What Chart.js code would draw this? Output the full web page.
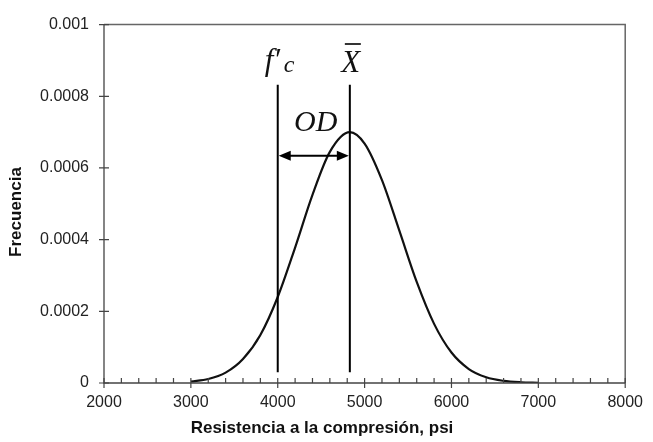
<!DOCTYPE html>
<html>
<head>
<meta charset="utf-8">
<script src="https://cdn.jsdelivr.net/npm/chart.js@4/dist/chart.umd.min.js"></script>
<style>
  html, body { margin: 0; padding: 0; background: #fff; }
  #wrap { width: 653px; height: 442px; }
</style>
</head>
<body>
<div id="wrap"><canvas id="myChart" width="653" height="442"></canvas></div>
<script>
// curve (psi, frequency)
const strength = [3000, 3200, 3400, 3600, 3800, 4000, 4200, 4400, 4600, 4830, 5000, 5200, 5400, 5600, 5800, 6000, 6200, 6400, 6600, 6800, 7000]
const frequency = [0.000004, 0.000011, 0.000029, 0.000067, 0.000134, 0.00024, 0.000378, 0.000525, 0.000645, 0.0007, 0.000668, 0.000566, 0.000425, 0.000282, 0.000165, 0.000085, 0.000039, 0.000016, 0.000006, 0.000002, 0.0000005]

const xTicks = [2000, 3000, 4000, 5000, 6000, 7000, 8000]
const yTicks = [0, 0.0002, 0.0004, 0.0006, 0.0008, 0.001]

// marker lines: f'c and mean
const fc = 4000
const mean = 4830
const markerTop = 0.000832
const markerBottom = 0.00003
const arrowLevel = 0.000634

const axisColor = '#444'
const sans = '"Liberation Sans", Arial, sans-serif'
const serif = '"Liberation Serif", "Times New Roman", serif'

const annotations = {
    id: 'annotations',
    afterDraw(chart) {
        const { ctx, chartArea: a, scales: { x, y } } = chart
        ctx.save()

        // frame top + right
        ctx.strokeStyle = '#666'
        ctx.lineWidth = 1.5
        ctx.beginPath()
        ctx.moveTo(a.left, a.top)
        ctx.lineTo(a.right, a.top)
        ctx.lineTo(a.right, a.bottom)
        ctx.stroke()

        // axis lines
        ctx.strokeStyle = axisColor
        ctx.lineWidth = 1.3
        ctx.beginPath()
        ctx.moveTo(a.left, a.top)
        ctx.lineTo(a.left, a.bottom)
        ctx.lineTo(a.right, a.bottom)
        ctx.stroke()

        // major ticks cross the axis, minor ticks go up
        ctx.lineWidth = 1.2
        ctx.beginPath()
        xTicks.forEach(v => {
            const px = x.getPixelForValue(v)
            ctx.moveTo(px, a.bottom - 5)
            ctx.lineTo(px, a.bottom + 5)
        })
        for (let v = 2200; v < 8000; v += 200) {
            if (v % 1000 === 0) continue
            const px = x.getPixelForValue(v)
            ctx.moveTo(px, a.bottom - 5)
            ctx.lineTo(px, a.bottom)
        }
        yTicks.forEach(v => {
            const py = y.getPixelForValue(v)
            ctx.moveTo(a.left - 5, py)
            ctx.lineTo(a.left + 5, py)
        })
        ctx.stroke()

        // vertical marker lines
        ctx.strokeStyle = '#000'
        ctx.lineWidth = 2
        ctx.beginPath()
        ;[fc, mean].forEach(v => {
            const px = x.getPixelForValue(v)
            ctx.moveTo(px, y.getPixelForValue(markerTop))
            ctx.lineTo(px, y.getPixelForValue(markerBottom))
        })
        ctx.stroke()

        // double arrow OD
        const x1 = x.getPixelForValue(fc) + 1
        const x2 = x.getPixelForValue(mean) - 1
        const ay = y.getPixelForValue(arrowLevel)
        ctx.lineWidth = 2
        ctx.beginPath()
        ctx.moveTo(x1 + 8, ay)
        ctx.lineTo(x2 - 8, ay)
        ctx.stroke()
        ctx.fillStyle = '#000'
        ctx.beginPath()
        ctx.moveTo(x1, ay)
        ctx.lineTo(x1 + 12, ay - 5)
        ctx.lineTo(x1 + 12, ay + 5)
        ctx.closePath()
        ctx.moveTo(x2, ay)
        ctx.lineTo(x2 - 12, ay - 5)
        ctx.lineTo(x2 - 12, ay + 5)
        ctx.closePath()
        ctx.fill()

        // labels
        ctx.fillStyle = '#111'
        ctx.textBaseline = 'alphabetic'
        ctx.textAlign = 'left'
        const fx = x.getPixelForValue(fc)
        ctx.font = 'italic 31px ' + serif
        ctx.fillText('f\u2032', fx - 13, 70)
        ctx.font = 'italic 24px ' + serif
        ctx.fillText('c', fx + 6, 72)

        const mx = x.getPixelForValue(mean)
        ctx.font = 'italic 31px ' + serif
        ctx.textAlign = 'center'
        ctx.fillText('X', mx + 1, 72)
        ctx.lineWidth = 1.6
        ctx.beginPath()
        ctx.moveTo(mx - 5, 44)
        ctx.lineTo(mx + 11, 44)
        ctx.stroke()

        ctx.font = 'italic 30px ' + serif
        ctx.fillText('OD', (fx + mx) / 2 + 2, 131)

        // axis titles
        ctx.font = 'bold 17px ' + sans
        ctx.fillStyle = '#111'
        ctx.textBaseline = 'middle'
        ctx.fillText('Resistencia a la compresi\u00f3n, psi', 322, 428)
        ctx.translate(16, 212)
        ctx.rotate(-Math.PI / 2)
        ctx.fillText('Frecuencia', 0, 0)

        ctx.restore()
    }
}

new Chart(document.getElementById('myChart'), {
    type: 'line',
    data: {
        labels: strength,
        datasets: [
            {
                label: 'Frecuencia',
                data: strength.map((s, i) => ({ x: s, y: frequency[i] })),
                borderColor: '#111',
                borderWidth: 2.2,
                pointRadius: 0,
                cubicInterpolationMode: 'monotone',
                fill: false,
            }
        ]
    },
    options: {
        responsive: false,
        animation: false,
        layout: { padding: { left: 0, top: 20, right: 22, bottom: 0 } },
        plugins: {
            legend: { display: false },
            tooltip: { enabled: false },
        },
        scales: {
            x: {
                type: 'linear',
                min: 2000,
                max: 8000,
                afterBuildTicks: s => { s.ticks = xTicks.map(v => ({ value: v })) },
                afterFit: s => { s.height = 59 },
                grid: { display: false, drawTicks: false },
                border: { display: false },
                ticks: {
                    padding: 10,
                    color: '#222',
                    font: { family: sans, size: 16 },
                    callback: v => String(v),
                },
            },
            y: {
                min: 0,
                max: 0.001,
                afterBuildTicks: s => { s.ticks = yTicks.map(v => ({ value: v })) },
                afterFit: s => { s.width = 104 },
                grid: { display: false, drawTicks: false },
                border: { display: false },
                ticks: {
                    padding: 15,
                    color: '#222',
                    font: { family: sans, size: 16 },
                    callback: v => String(+v.toFixed(4)),
                },
            },
        },
    },
    plugins: [annotations],
})
</script>
</body>
</html>
